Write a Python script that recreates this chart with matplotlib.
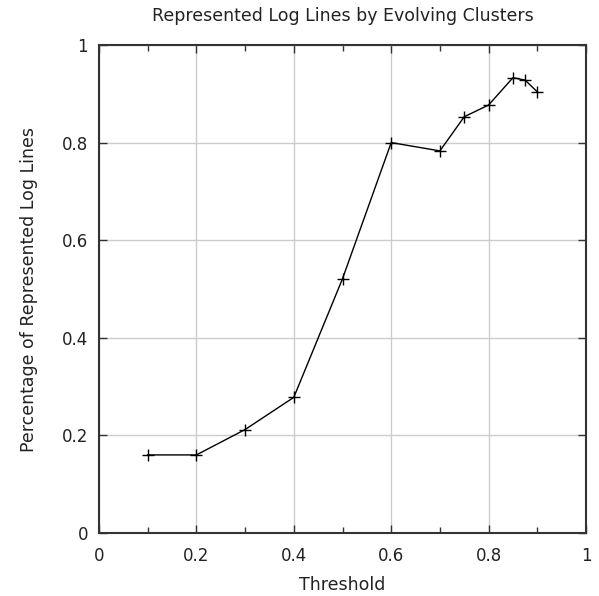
import matplotlib
matplotlib.use("Agg")
import matplotlib.pyplot as plt
from matplotlib.ticker import MultipleLocator

thresholds = [0.1, 0.2, 0.3, 0.4, 0.5, 0.6, 0.7, 0.75, 0.8, 0.85, 0.875, 0.9]
percentages = [0.16, 0.16, 0.212, 0.278, 0.521, 0.800, 0.783, 0.853, 0.877, 0.933, 0.928, 0.904]
x_ticks = [0, 0.2, 0.4, 0.6, 0.8, 1]
y_ticks = [0, 0.2, 0.4, 0.6, 0.8, 1]
x_tick_labels = ["0", "0.2", "0.4", "0.6", "0.8", "1"]
y_tick_labels = ["0", "0.2", "0.4", "0.6", "0.8", "1"]

plt.rcParams['font.family'] = ['DejaVu Sans']
fig = plt.figure(figsize=(5.99, 5.96), dpi=100)
ax = fig.add_axes([99/599, 1 - 533/596, (586 - 99)/599, (533 - 45)/596])

ax.plot(thresholds, percentages, color='black', linewidth=1.0, marker='+',
        markersize=9, markeredgewidth=1.0, zorder=3)

ax.set_xlim(0, 1)
ax.set_ylim(0, 1)
ax.set_xticks(x_ticks)
ax.set_xticklabels(x_tick_labels)
ax.set_yticks(y_ticks)
ax.set_yticklabels(y_tick_labels)
ax.xaxis.set_minor_locator(MultipleLocator(0.1))
ax.grid(True, which='major', color='#cccccc', linewidth=1.0, zorder=0)
ax.set_axisbelow(True)

ax.tick_params(which='both', direction='in', top=True, right=True,
               labelsize=12, colors='#333333', labelcolor='#222222', width=1.0)
ax.tick_params(which='major', length=6)
ax.tick_params(axis='x', which='major', pad=10)
ax.tick_params(axis='y', which='major', pad=8)
ax.tick_params(which='minor', length=4)
for s in ax.spines.values():
    s.set_color('#333333')
    s.set_linewidth(1.5)

ax.set_xlabel('Threshold', fontsize=12.5, color='#222222')
ax.xaxis.set_label_coords(0.5, (533 - 585) / 488, transform=ax.transAxes)
ax.xaxis.label.set_va('center')
ax.set_ylabel('Percentage of Represented Log Lines', fontsize=12.5, color='#222222')
ax.yaxis.set_label_coords((29 - 99) / 487, 0.5, transform=ax.transAxes)
ax.yaxis.label.set_va('center')
ax.set_title('Represented Log Lines by Evolving Clusters', fontsize=12.5,
             color='#222222', y=1 + (45 - 16) / 488, va='center', pad=0)

fig.savefig('out.png', dpi=100)
